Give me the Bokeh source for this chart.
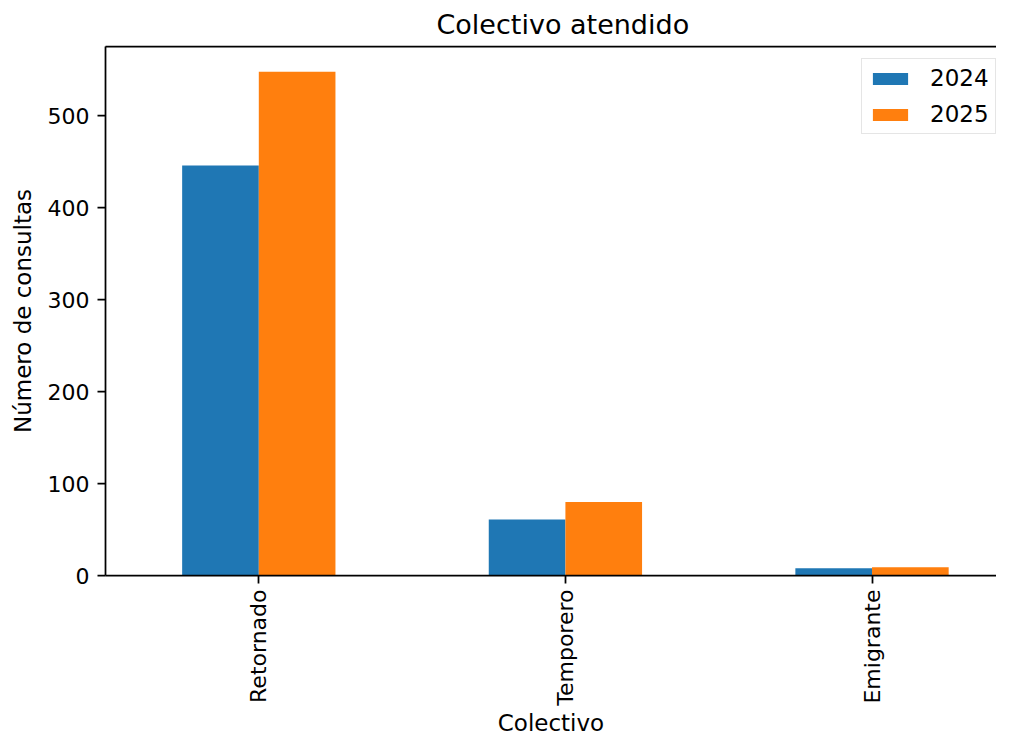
import math
from bokeh.plotting import figure
from bokeh.models import FixedTicker, LinearAxis, Range1d, ColumnDataSource
from bokeh.transform import dodge
from bokeh.embed import file_html
from bokeh.resources import INLINE

categories = ["Retornado", "Temporero", "Emigrante"]
years = ["2024", "2025"]
values_2024 = [446, 61, 8]
values_2025 = [548, 80, 9]
y_ticks = [0, 100, 200, 300, 400, 500]

colors = {"2024": "#1f77b4", "2025": "#ff7f0e"}
FONT = "DejaVu Sans"

positions = list(range(len(categories)))
source = ColumnDataSource(dict(pos=positions, v2024=values_2024, v2025=values_2025))

ymax = max(values_2024 + values_2025) * 1.05

p = figure(width=996, height=738, output_backend="svg", toolbar_location=None,
           x_range=Range1d(-0.5, 2.406), y_range=Range1d(0, ymax),
           min_border_left=105, min_border_right=0, min_border_top=46, min_border_bottom=163,
           title="Colectivo atendido")

p.title.text_font = FONT
p.title.text_font_size = "27px"
p.title.text_font_style = "normal"
p.title.text_color = "#000000"
p.title.align = "left"
p.title.offset = 331
p.title.standoff = 13

p.outline_line_color = None
p.xgrid.visible = False
p.ygrid.visible = False

p.vbar(x=dodge("pos", -0.125, range=p.x_range), top="v2024", width=0.25, source=source,
       fill_color=colors["2024"], line_color=None, legend_label=years[0])
p.vbar(x=dodge("pos", 0.125, range=p.x_range), top="v2025", width=0.25, source=source,
       fill_color=colors["2025"], line_color=None, legend_label=years[1])

for ax in (p.xaxis[0], p.yaxis[0]):
    ax.axis_line_width = 1.75
    ax.axis_line_color = "#000000"
    ax.major_tick_in = 0
    ax.major_tick_out = 8
    ax.major_tick_line_width = 1.75
    ax.minor_tick_line_color = None
    ax.major_label_text_font = FONT
    ax.major_label_text_font_size = "22px"
    ax.major_label_text_color = "#000000"
    ax.major_label_standoff = 8
    ax.axis_label_text_font = FONT
    ax.axis_label_text_font_size = "23px"
    ax.axis_label_text_font_style = "normal"
    ax.axis_label_text_color = "#000000"

p.yaxis.ticker = FixedTicker(ticks=y_ticks)
p.yaxis.axis_label = "Número de consultas"
p.yaxis.axis_label_standoff = 9

p.xaxis.ticker = FixedTicker(ticks=positions)
p.xaxis.major_label_overrides = {i: c for i, c in enumerate(categories)}
p.xaxis.major_label_orientation = math.pi / 2
p.xaxis.major_label_standoff = 6
p.xaxis.axis_label = "Colectivo"
p.xaxis.axis_label_standoff = 1

top_axis = LinearAxis(ticker=FixedTicker(ticks=[]), major_label_text_font_size="0px",
                      major_tick_out=0, major_tick_in=0, minor_tick_out=0, minor_tick_in=0,
                      axis_line_width=1.75, axis_line_color="#000000")
p.add_layout(top_axis, "above")

lg = p.legend[0]
lg.location = (756, 441)
lg.label_text_font = FONT
lg.label_text_font_size = "23px"
lg.label_text_color = "#000000"
lg.glyph_width = 44
lg.glyph_height = 15
lg.label_standoff = 18
lg.padding = 6
lg.spacing = 10
lg.margin = 0
lg.border_line_color = "#cccccc"
lg.border_line_width = 1.3
lg.background_fill_alpha = 0.8

open("out.html", "w").write(file_html(p, INLINE))
